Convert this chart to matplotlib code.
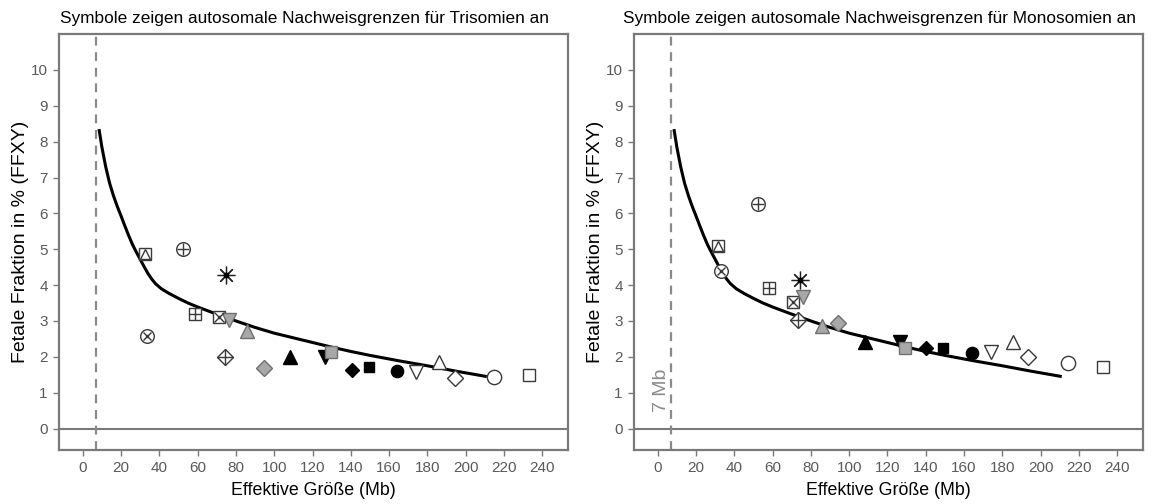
import matplotlib
matplotlib.use("Agg")
import matplotlib.pyplot as plt

plt.rcParams['font.family'] = ['Liberation Sans', 'DejaVu Sans']

# ---- data ----
titles = ["Symbole zeigen autosomale Nachweisgrenzen für Trisomien an",
          "Symbole zeigen autosomale Nachweisgrenzen für Monosomien an"]
x_label = "Effektive Größe (Mb)"
y_label = "Fetale Fraktion in % (FFXY)"
cutoff_mb = 7
cutoff_label = "7 Mb"

curve_x = [8.5, 10, 12, 14, 16, 18, 20, 22, 24, 26, 28, 30, 32, 34, 36, 38,
           41, 45, 50, 55, 60, 70, 80, 90, 100, 110, 120, 130, 140, 150, 165,
           180, 195, 211]
curve_y = [8.35, 7.85, 7.3, 6.85, 6.5, 6.2, 5.93, 5.65, 5.38, 5.13, 4.92,
           4.72, 4.52, 4.33, 4.17, 4.04, 3.9, 3.77, 3.63, 3.5, 3.39, 3.19,
           3.0, 2.82, 2.66, 2.53, 2.4, 2.27, 2.15, 2.04, 1.89, 1.75, 1.6, 1.45]

symbols = ["sq_tri", "circ_plus", "aster", "sq_plus", "sq_x", "gray_vtri",
           "gray_tri", "circ_x", "dia_plus", "gray_dia", "black_tri",
           "black_vtri", "gray_sq", "black_dia", "black_sq", "black_circ",
           "open_vtri", "open_tri", "open_dia", "open_circ", "open_sq"]

tri_x = [32.5, 52.4, 74.9, 58.7, 71.3, 76.4, 85.8, 33.6, 74.4, 94.8, 108.4,
         126.6, 129.5, 140.4, 149.5, 164.3, 174.0, 186.2, 194.2, 215.0, 233.2]
tri_y = [4.87, 5.02, 4.27, 3.20, 3.10, 3.02, 2.72, 2.57, 2.00, 1.68, 2.00,
         2.00, 2.14, 1.64, 1.73, 1.60, 1.58, 1.86, 1.42, 1.45, 1.48]

mono_x = [31.6, 52.5, 74.3, 58.1, 70.7, 75.9, 85.6, 32.9, 73.3, 94.3, 108.1,
          126.4, 129.0, 140.0, 149.0, 164.0, 173.9, 185.5, 193.5, 214.4, 232.7]
mono_y = [5.10, 6.26, 4.14, 3.91, 3.54, 3.68, 2.87, 4.39, 3.03, 2.95, 2.40,
          2.42, 2.24, 2.26, 2.26, 2.12, 2.13, 2.42, 1.99, 1.82, 1.73]

x_ticks = list(range(0, 241, 20))
y_ticks = list(range(0, 11))

# ---- styles ----
EDGE = "#3a3a3a"
GRAY = "#a8a8a8"
GEDGE = "#707070"
MS = 9.8


def draw_symbol(ax, kind, x, y):
    def m(marker, ms=MS, fc="white", ec=EDGE, mew=1.0, z=5):
        ax.plot([x], [y], marker=marker, ms=ms, mfc=fc, mec=ec, mew=mew,
                linestyle="none", zorder=z)
    if kind == "sq_tri":
        m("s", ms=MS * 0.95)
        m("^", ms=MS * 0.75, z=6)
    elif kind == "circ_plus":
        m("o")
        m("+", ms=MS * 0.95, z=6)
    elif kind == "circ_x":
        m("o")
        m("x", ms=MS * 0.65, z=6)
        m(".", ms=3, fc=EDGE, z=7)
    elif kind == "aster":
        m((8, 2, 0), ms=MS * 1.3, mew=0.9, ec="#222222")
        m("o", ms=3.2, fc="black", ec="black", z=6)
    elif kind == "sq_plus":
        m("s", ms=MS * 0.95)
        m("+", ms=MS * 0.95, z=6)
    elif kind == "sq_x":
        m("s", ms=MS * 0.95)
        m("x", ms=MS * 0.7, z=6)
        m(".", ms=3, fc=EDGE, z=7)
    elif kind == "dia_plus":
        m("D", ms=MS * 0.85)
        m("+", ms=MS * 1.15, z=6)
    elif kind == "gray_vtri":
        m("v", ms=MS * 1.1, fc=GRAY, ec=GEDGE)
    elif kind == "gray_tri":
        m("^", ms=MS * 1.1, fc=GRAY, ec=GEDGE)
    elif kind == "gray_dia":
        m("D", ms=MS * 0.8, fc=GRAY, ec=GEDGE)
    elif kind == "gray_sq":
        m("s", ms=MS * 0.9, fc=GRAY, ec=GEDGE)
    elif kind == "black_tri":
        m("^", ms=MS, fc="black", ec="black")
    elif kind == "black_vtri":
        m("v", ms=MS, fc="black", ec="black")
    elif kind == "black_dia":
        m("D", ms=MS * 0.75, fc="black", ec="black")
    elif kind == "black_sq":
        m("s", ms=MS * 0.8, fc="black", ec="black")
    elif kind == "black_circ":
        m("o", ms=MS * 0.9, fc="black", ec="black")
    elif kind == "open_vtri":
        m("v", ms=MS * 1.1)
    elif kind == "open_tri":
        m("^", ms=MS * 1.1)
    elif kind == "open_dia":
        m("D", ms=MS * 0.8)
    elif kind == "open_circ":
        m("o", ms=MS * 1.05)
    elif kind == "open_sq":
        m("s", ms=MS * 0.9)


fig = plt.figure(figsize=(11.52, 5.04), dpi=100)
ax_l = fig.add_axes([0.0512, 0.107, 0.442, 0.8254])
ax_r = fig.add_axes([0.5503, 0.107, 0.442, 0.8254])

SPINE = "#7a7a7a"
TICKC = "#5a5a5a"

for ax, title, xs, ys in [(ax_l, titles[0], tri_x, tri_y),
                          (ax_r, titles[1], mono_x, mono_y)]:
    ax.set_xlim(-12.4, 253.5)
    ax.set_ylim(-0.6, 11.0)
    ax.set_xticks(x_ticks)
    ax.set_yticks(y_ticks)
    for s in ax.spines.values():
        s.set_color(SPINE)
        s.set_linewidth(1.6)
    ax.tick_params(colors=SPINE, labelcolor=TICKC, labelsize=11,
                   length=4, width=1, direction="out", pad=4)
    ax.axhline(0, color=SPINE, lw=1.5, zorder=1)
    ax.axvline(cutoff_mb, color="#8a8a8a", lw=1.6, ls=(0, (4, 3)), zorder=1)
    ax.plot(curve_x, curve_y, color="black", lw=2.2, zorder=3,
            solid_capstyle="butt", solid_joinstyle="round")
    for kind, x, y in zip(symbols, xs, ys):
        draw_symbol(ax, kind, x, y)
    ax.set_title(title, fontsize=12.4, color="black", pad=8, x=0.482)
    ax.set_xlabel(x_label, fontsize=12.8, color="black", labelpad=5)
    ax.set_ylabel(y_label, fontsize=14, color="black", labelpad=1)

ax_r.text(cutoff_mb - 0.6, 1.08, cutoff_label, rotation=90, ha="right",
          va="center", fontsize=14, color="#8a8a8a")

fig.savefig("out.png", dpi=100)
